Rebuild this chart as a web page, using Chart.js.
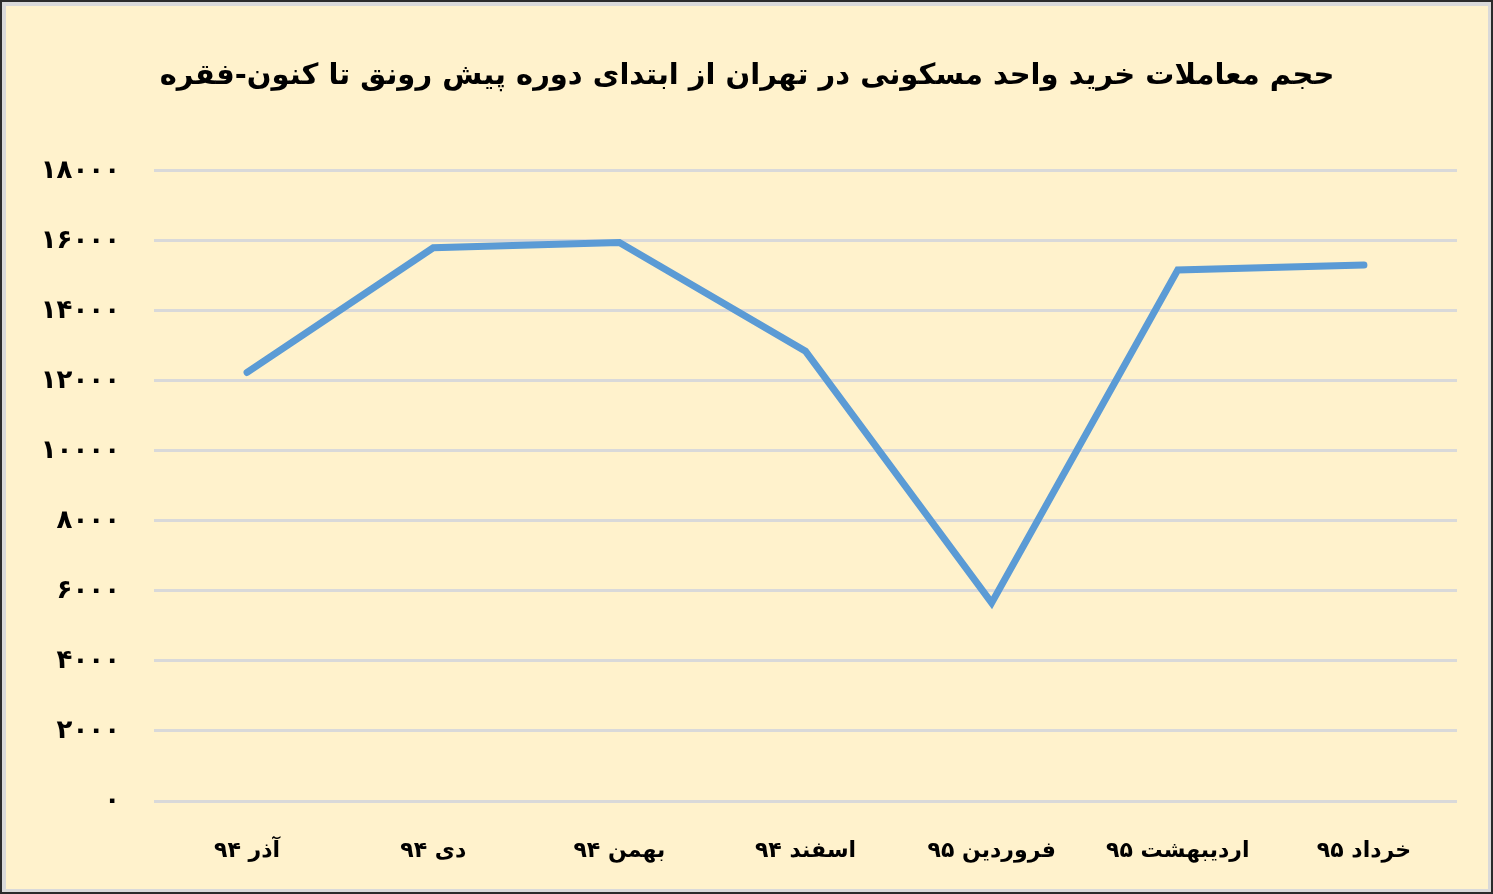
<!DOCTYPE html>
<html lang="fa">
<head>
<meta charset="utf-8">
<script src="https://cdn.jsdelivr.net/npm/chart.js@4.4.1/dist/chart.umd.min.js"></script>
<style>
  html, body { margin: 0; padding: 0; background: #fff; }
  #frame {
    box-sizing: border-box;
    width: 1493px; height: 894px;
    border: 2px solid #2b2b2b;
  }
  #inner {
    box-sizing: border-box;
    width: 1489px; height: 890px;
    border: 3px solid #d9d9d9;
    border-top-width: 4px; border-left-width: 4px;
    background: #fff2cc;
  }
  #wrap { width: 1482px; height: 883px; position: relative; }
</style>
</head>
<body>
<div id="frame"><div id="inner"><div id="wrap"><canvas id="c"></canvas></div></div></div>
<script>
const titleText = 'حجم معاملات خرید واحد مسکونی در تهران از ابتدای دوره پیش رونق تا کنون-فقره';
const months = ['آذر ۹۴', 'دی ۹۴', 'بهمن ۹۴', 'اسفند ۹۴', 'فروردین ۹۵', 'اردیبهشت ۹۵', 'خرداد ۹۵'];
const deals = [12240, 15800, 15950, 12850, 5660, 15170, 15310];
const yTicks = [0, 2000, 4000, 6000, 8000, 10000, 12000, 14000, 16000, 18000];
const yTickLabels = ['۰', '۲۰۰۰', '۴۰۰۰', '۶۰۰۰', '۸۰۰۰', '۱۰۰۰۰', '۱۲۰۰۰', '۱۴۰۰۰', '۱۶۰۰۰', '۱۸۰۰۰'];

const font = "'DejaVu Sans', sans-serif";

new Chart(document.getElementById('c'), {
  type: 'line',
  data: {
    labels: months,
    datasets: [{
      data: deals,
      borderColor: '#5b9bd5',
      borderWidth: 7,
      borderCapStyle: 'round',
      borderJoinStyle: 'miter',
      pointRadius: 0,
      tension: 0,
      fill: false
    }]
  },
  options: {
    responsive: true,
    maintainAspectRatio: false,
    animation: false,
    layout: { padding: { left: 31, right: 31, top: 0, bottom: 0 } },
    plugins: {
      legend: { display: false },
      tooltip: { enabled: false },
      title: {
        display: true,
        text: titleText,
        color: '#000',
        font: { family: font, size: 29, weight: 'bold' },
        padding: { top: 53, bottom: 77 }
      }
    },
    scales: {
      x: {
        offset: true,
        grid: { display: false, drawTicks: false },
        border: { display: false },
        ticks: {
          color: '#000',
          font: { family: font, size: 22, weight: 'bold' },
          padding: 37,
          maxRotation: 0
        },
        afterFit: s => { s.height = 88; }
      },
      y: {
        min: 0,
        max: 18000,
        afterBuildTicks: s => { s.ticks = yTicks.map(v => ({ value: v })); },
        grid: { color: '#d9d9d9', lineWidth: 3, drawTicks: false },
        border: { display: false },
        ticks: {
          color: '#000',
          font: { family: font, size: 26, weight: 'bold' },
          padding: 34,
          callback: (v, i) => yTickLabels[yTicks.indexOf(v)]
        },
        afterFit: s => { s.width = 117; }
      }
    }
  }
});
</script>
</body>
</html>
